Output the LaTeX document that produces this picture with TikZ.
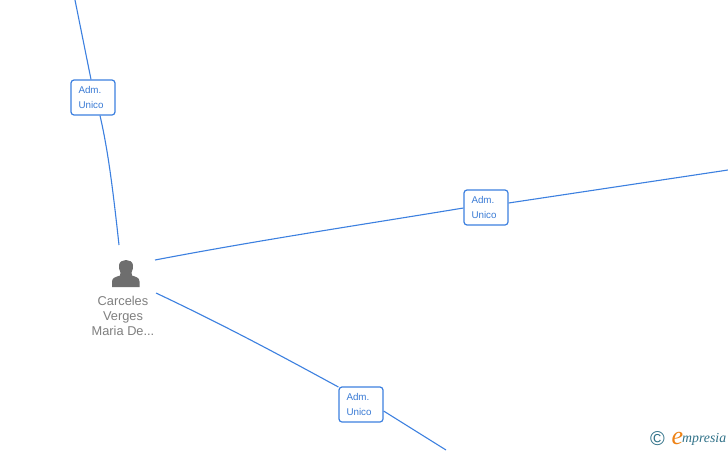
\documentclass[tikz,border=0pt]{standalone}
\usepackage{fontspec}
\setmainfont{Liberation Sans}
\newfontfamily\logofont{Liberation Serif}
\definecolor{linkblue}{HTML}{3C80E0}
\definecolor{labelblue}{HTML}{3A7BD5}
\definecolor{persongray}{HTML}{6E6E6E}
\definecolor{namegray}{HTML}{7F7F7F}
\definecolor{logoteal}{HTML}{2F7188}
\definecolor{logoorange}{HTML}{EE8215}
\tikzset{
  link/.style={draw=linkblue,line width=1.1pt},
  rolebox/.style={draw=linkblue,line width=1.2pt,fill=white,rounded corners=3pt,minimum width=44pt,minimum height=35pt,inner sep=0pt,text=labelblue,font=\fontsize{9.8}{15}\selectfont,align=left,text width=29pt},
  person/.style={text=namegray,font=\fontsize{12.8}{15}\selectfont,align=center,inner sep=0pt}
}
\begin{document}
\begin{tikzpicture}[x=1pt,y=-1pt]
\useasboundingbox (0,0) rectangle (728,450);
\fill[white] (0,0) rectangle (728,450);
% free ends and person anchors
\coordinate (topend) at (75,0);
\coordinate (rightend) at (728,170);
\coordinate (botend) at (446,450);
\coordinate (pa) at (119,245);
\coordinate (pb) at (155,260);
\coordinate (pc) at (156,293);
% role boxes
\node[rolebox] (r1) at (93,97.5) {Adm.\\Unico};
\node[rolebox] (r2) at (486,207.5) {Adm.\\Unico};
\node[rolebox] (r3) at (361,404.5) {Adm.\\Unico};
% connectors
\draw[link] (topend) -- (r1.north -| 91,0);
\draw[link] (r1.south -| 100,0) .. controls (108,150) and (113,190) .. (pa);
\draw[link] (pb) .. controls (260,240) and (360,225) .. (r2.west |- 0,208);
\draw[link] (r2.east |- 0,203) -- (rightend);
\draw[link] (pc) .. controls (230,328) and (285,358) .. (r3.west |- 0,387);
\draw[link] (r3.east |- 0,411) -- (botend);
% person icon
\fill[persongray] (112,287) -- (112,281.5) .. controls (112,277.5) and (116,277) .. (120,275.5)
  -- (120.5,272.5) .. controls (119,270) and (118.7,267) .. (119,265)
  .. controls (119.5,261.5) and (123,260) .. (126,260)
  .. controls (129,260) and (132.5,261.5) .. (133,265)
  .. controls (133.3,267) and (133,270) .. (131.5,272.5)
  -- (132,275.5) .. controls (136,277) and (139.5,277.5) .. (139.5,281.5)
  -- (139.5,287) -- cycle;
\node[person] (name) at (123,316) {Carceles\\Verges\\Maria De...};
% logo
\node[text=logoteal,inner sep=0pt] (copy) at (657.5,438.5) {\fontsize{20}{20}\selectfont ©};
\node[text=logoorange,inner sep=0pt] (logoe) at (677.5,438) {\logofont\itshape\fontsize{26}{26}\selectfont e};
\node[text=logoteal,inner sep=0pt,anchor=west] (logot) at (682,439.5) {\logofont\itshape\fontsize{13.8}{13.8}\selectfont mpresia};
\end{tikzpicture}
\end{document}
